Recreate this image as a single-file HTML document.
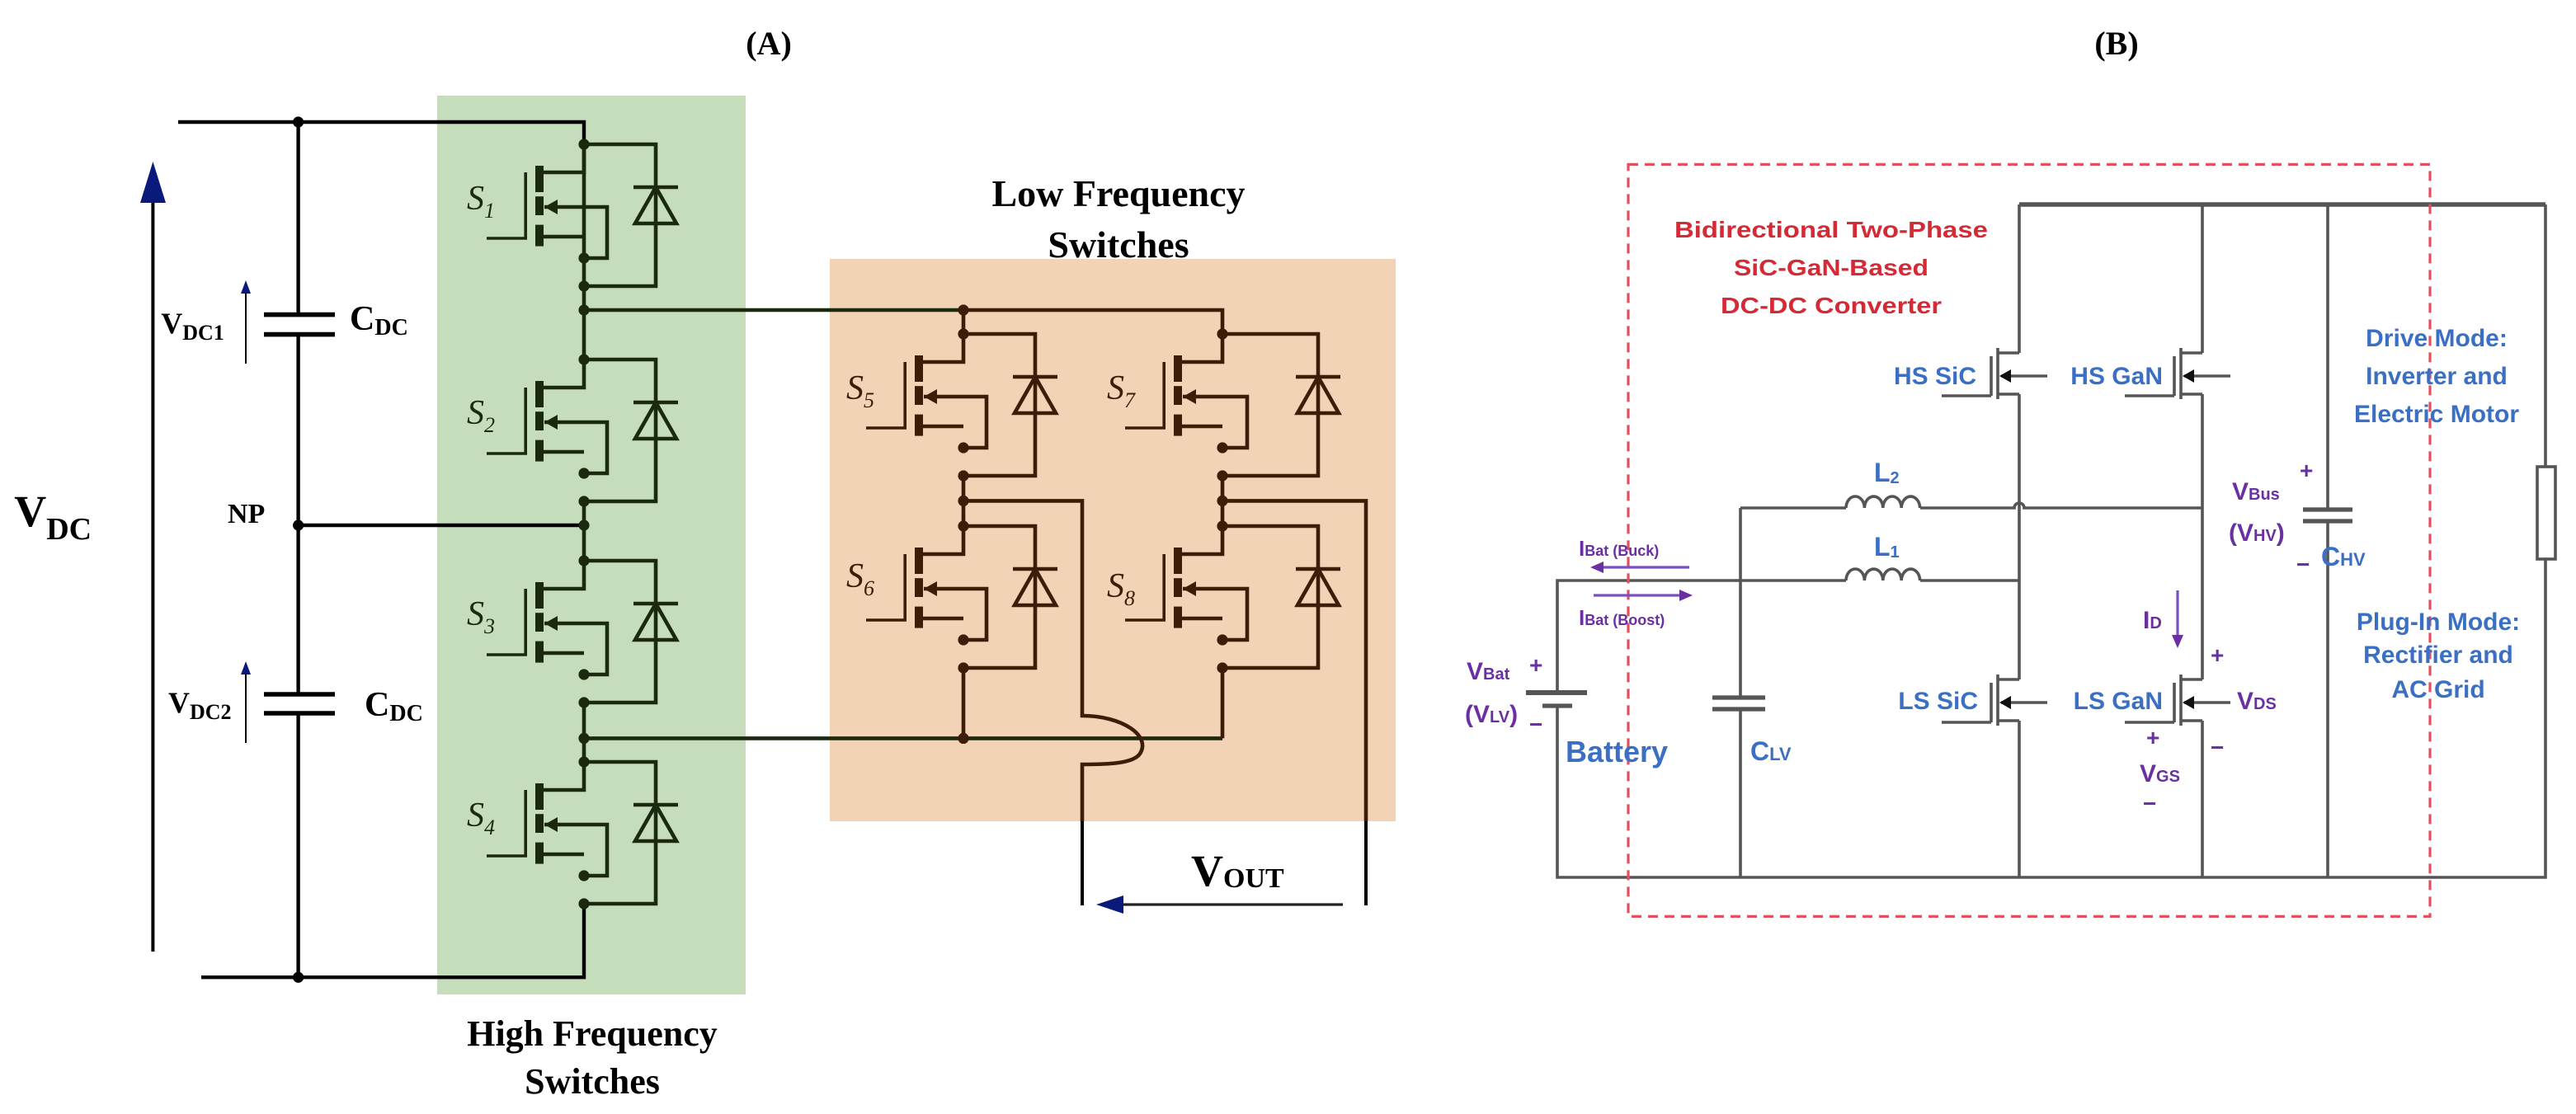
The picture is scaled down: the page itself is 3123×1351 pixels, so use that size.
<!DOCTYPE html>
<html><head><meta charset="utf-8"><style>
html,body{margin:0;padding:0;background:#fff}
svg{display:block}
.sr{font-family:"Liberation Serif",serif;font-weight:bold}
.si{font-family:"Liberation Serif",serif;font-style:italic}
.b{font-family:"Liberation Sans Narrow","Liberation Sans",sans-serif;font-weight:bold}
.n{font-family:"Liberation Sans Narrow","Liberation Sans",sans-serif}
</style></head><body>
<svg width="3123" height="1351" viewBox="0 0 1561.5 675.5" xmlns="http://www.w3.org/2000/svg">
<defs>
<g id="m">
 <path d="M0,0 H43.5 V86 H0 M0,0 V17 H-27 M-24,38 H14 V69 H0 M-27,56 H0" fill="none" stroke-width="2.3"/>
 <path d="M-59,57 H-35.4 V17" fill="none" stroke-width="1.8"/>
 <rect x="-29.5" y="13" width="5" height="16" stroke="none"/>
 <rect x="-29.5" y="31.6" width="5" height="11.4" stroke="none"/>
 <rect x="-29.5" y="48.8" width="5" height="13" stroke="none"/>
 <polygon points="-24,38 -16,33.5 -16,42.5" stroke="none"/>
 <path d="M30,26 H57" stroke-width="2.3"/>
 <polygon points="43.5,26 31,48 56,48" fill="none" stroke-width="2.3"/>
 <circle cx="0" cy="0" r="3.3" stroke="none"/><circle cx="0" cy="69" r="3.3" stroke="none"/><circle cx="0" cy="86" r="3.3" stroke="none"/>
</g>
<g id="m2">
 <path d="M0,0 H58 V86 H0 M0,0 V17 H-27 M-24,38 H15 V69 H0 M-27,56 H0" fill="none" stroke-width="2.3"/>
 <path d="M-59,57 H-35.4 V17" fill="none" stroke-width="1.8"/>
 <rect x="-29.5" y="13" width="5" height="16" stroke="none"/>
 <rect x="-29.5" y="31.6" width="5" height="11.4" stroke="none"/>
 <rect x="-29.5" y="48.8" width="5" height="13" stroke="none"/>
 <polygon points="-24,38 -16,33.5 -16,42.5" stroke="none"/>
 <path d="M44.5,26 H71.5" stroke-width="2.3"/>
 <polygon points="58,26 45.5,48 70.5,48" fill="none" stroke-width="2.3"/>
 <circle cx="0" cy="0" r="3.3" stroke="none"/><circle cx="0" cy="69" r="3.3" stroke="none"/><circle cx="0" cy="86" r="3.3" stroke="none"/>
</g>
<g id="q">
 <path d="M0,0 H-13 M-13,-3 V28 M-17,2 V26 M-47,26 H-17 M-13,25 H0 M-11,14 H17" fill="none" stroke="#555" stroke-width="1.8"/>
 <polygon points="-12,14 -5,10 -5,18" fill="#111"/>
</g>
</defs>

<!-- ===== Part A ===== -->
<text x="466" y="33" class="sr" font-size="20" text-anchor="middle">(A)</text>
<rect x="265" y="58" width="187" height="545" fill="#c5ddbb"/>
<rect x="503" y="157" width="343" height="341" fill="#f2d3b6"/>
<text x="359" y="634" class="sr" font-size="22" text-anchor="middle">High Frequency</text>
<text x="359" y="663" class="sr" font-size="22" text-anchor="middle">Switches</text>
<text x="678" y="125" class="sr" font-size="23" text-anchor="middle">Low Frequency</text>
<text x="678" y="156" class="sr" font-size="23" text-anchor="middle">Switches</text>

<g stroke="#000" stroke-width="2.2" fill="none">
 <path d="M108,74 H354 V87.5"/>
 <path d="M122,592.6 H354 V548"/>
 <path d="M180.8,74 V190.8 M180.8,202.8 V421 M180.8,432.5 V592.6"/>
 <path d="M160,190.8 H203 M160,202.8 H203 M160,421 H203 M160,432.5 H203" stroke-width="2.8"/>
 <path d="M180.8,318.5 H354"/>
</g>
<circle cx="180.8" cy="74" r="3.3"/><circle cx="180.8" cy="318.5" r="3.3"/><circle cx="180.8" cy="592.6" r="3.3"/>
<line x1="92.7" y1="577" x2="92.7" y2="120" stroke="#000" stroke-width="2"/>
<polygon points="92.7,98 85,123 100.5,123" fill="#0a1a7a"/>
<line x1="149" y1="220.5" x2="149" y2="176" stroke="#000" stroke-width="1"/>
<polygon points="149,170 146,178 152,178" fill="#0a1a7a"/>
<line x1="149" y1="450.5" x2="149" y2="407" stroke="#000" stroke-width="1"/>
<polygon points="149,401 146,409 152,409" fill="#0a1a7a"/>
<text x="8.6" y="319" class="sr" font-size="27">V<tspan font-size="19" dy="8">DC</tspan></text>
<text x="138" y="317" class="sr" font-size="17">NP</text>
<text x="97.6" y="202" class="sr" font-size="18">V<tspan font-size="13" dy="4">DC1</tspan></text>
<text x="102" y="432" class="sr" font-size="18">V<tspan font-size="13" dy="4">DC2</tspan></text>
<text x="212" y="200" class="sr" font-size="21">C<tspan font-size="14" dy="3">DC</tspan></text>
<text x="221" y="434" class="sr" font-size="21">C<tspan font-size="14" dy="3">DC</tspan></text>

<g fill="#1b2a0e" stroke="#1b2a0e">
 <path d="M354,86 V218 M354,304 V340 M354,426 V462" stroke-width="2.3" fill="none"/>
 <path d="M354,188 H584 M354,447.7 H741" stroke-width="2.3" fill="none"/>
 <use href="#m" x="354" y="87.5"/>
 <use href="#m" x="354" y="218"/>
 <use href="#m" x="354" y="340"/>
 <use href="#m" x="354" y="462"/>
 <circle cx="354" cy="188" r="3.3" stroke="none"/>
 <circle cx="354" cy="318.5" r="3.3" stroke="none"/>
 <circle cx="354" cy="447.7" r="3.3" stroke="none"/>
</g>
<g class="si" font-size="21" fill="#1b2a0e">
 <text x="283" y="127">S<tspan font-size="13" dy="5">1</tspan></text>
 <text x="283" y="257">S<tspan font-size="13" dy="5">2</tspan></text>
 <text x="283" y="379">S<tspan font-size="13" dy="5">3</tspan></text>
 <text x="283" y="501">S<tspan font-size="13" dy="5">4</tspan></text>
</g>

<g fill="#3b1d08" stroke="#3b1d08">
 <path d="M584,188 H741 V202.5 M584,188 V202.5 M584,288 V319 M741,288 V319 M584,405 V447.7 M741,405 V447.7" stroke-width="2.3" fill="none"/>
 <path d="M584,303.7 H656 V434 C680,434 698,446 691,457 C687,463 672,463.5 656,463.5 V498" stroke-width="2.3" fill="none"/>
 <path d="M741,303.7 H828 V498" stroke-width="2.3" fill="none"/>
 <use href="#m" x="584" y="202.5"/>
 <use href="#m" x="584" y="319"/>
 <use href="#m2" x="741" y="202.5"/>
 <use href="#m2" x="741" y="319"/>
 <circle cx="584" cy="188" r="3.3" stroke="none"/>
 <circle cx="584" cy="303.7" r="3.3" stroke="none"/>
 <circle cx="741" cy="303.7" r="3.3" stroke="none"/>
 <circle cx="584" cy="447.7" r="3.3" stroke="none"/>
</g>
<g class="si" font-size="21" fill="#3b1d08">
 <text x="513" y="242">S<tspan font-size="13" dy="5">5</tspan></text>
 <text x="513" y="356">S<tspan font-size="13" dy="5">6</tspan></text>
 <text x="671" y="242">S<tspan font-size="13" dy="5">7</tspan></text>
 <text x="671" y="362">S<tspan font-size="13" dy="5">8</tspan></text>
</g>
<path d="M656,498 V549 M828,498 V549" stroke="#000" stroke-width="2" fill="none"/>
<line x1="814" y1="548.5" x2="678" y2="548.5" stroke="#222" stroke-width="1.6"/>
<polygon points="664.5,548.5 681,543 681,554" fill="#0a1a7a"/>
<text x="722" y="537" class="sr" font-size="27" font-weight="normal">V<tspan font-size="17" dy="1">OUT</tspan></text>

<!-- ===== Part B ===== -->
<text x="1283" y="33" class="sr" font-size="20" text-anchor="middle">(B)</text>
<g stroke="#555" stroke-width="1.8" fill="none">
 <path d="M1224,124 H1543" stroke-width="2.8"/>
 <path d="M1543,124 V283 M1543,339 V532 H944 V428 M944,420 V352 H1119"/>
 <rect x="1538" y="283" width="11" height="56" fill="#fff"/>
 <path d="M1411,124 V309 M1411,316 V532"/>
 <path d="M1396,309 H1426 M1396,316 H1426" stroke-width="2.6"/>
 <path d="M1224,124 V214 M1224,239 V412 M1224,437 V532"/>
 <path d="M1335,124 V214 M1335,239 V412 M1335,437 V532"/>
 <path d="M1055,308 H1119 M1164,308 H1221 A3,3 0 0 1 1227,308 H1335"/>
 <path d="M1164,352 H1224"/>
 <path d="M1119,308 a5.6,7 0 0 1 11.2,0 a5.6,7 0 0 1 11.2,0 a5.6,7 0 0 1 11.2,0 a5.6,7 0 0 1 11.2,0"/>
 <path d="M1119,352 a5.6,7 0 0 1 11.2,0 a5.6,7 0 0 1 11.2,0 a5.6,7 0 0 1 11.2,0 a5.6,7 0 0 1 11.2,0"/>
 <path d="M1055,308 V423 M1055,430 V532"/>
 <path d="M1038,423 H1070 M1038,430 H1070" stroke-width="2.6"/>
 <path d="M925,420 H962" stroke-width="3"/>
 <path d="M935,428 H953" stroke-width="2.6"/>
</g>
<use href="#q" x="1224" y="214"/>
<use href="#q" x="1335" y="214"/>
<use href="#q" x="1224" y="412"/>
<use href="#q" x="1335" y="412"/>
<rect x="987" y="99.7" width="486" height="456" fill="none" stroke="#e0505e" stroke-width="1.6" stroke-dasharray="6,4"/>
<g class="b" fill="#d42a35" font-size="14" text-anchor="middle">
 <text x="1110" y="144" textLength="190" lengthAdjust="spacingAndGlyphs">Bidirectional Two-Phase</text>
 <text x="1110" y="167" textLength="118" lengthAdjust="spacingAndGlyphs">SiC-GaN-Based</text>
 <text x="1110" y="190" textLength="134" lengthAdjust="spacingAndGlyphs">DC-DC Converter</text>
</g>
<g class="b" fill="#3a6fc4" font-size="15">
 <text x="1198" y="233" text-anchor="end">HS SiC</text>
 <text x="1311" y="233" text-anchor="end">HS GaN</text>
 <text x="1199" y="430" text-anchor="end">LS SiC</text>
 <text x="1311" y="430" text-anchor="end">LS GaN</text>
 <text x="1477" y="210" text-anchor="middle">Drive Mode:</text>
 <text x="1477" y="233" text-anchor="middle">Inverter and</text>
 <text x="1477" y="256" text-anchor="middle">Electric Motor</text>
 <text x="1478" y="382" text-anchor="middle">Plug-In Mode:</text>
 <text x="1478" y="402" text-anchor="middle">Rectifier and</text>
 <text x="1478" y="423" text-anchor="middle">AC Grid</text>
 <text x="1136" y="292" font-size="16">L<tspan font-size="10" dy="1">2</tspan></text>
 <text x="1136" y="337" font-size="16">L<tspan font-size="10" dy="1">1</tspan></text>
 <text x="949" y="462" font-size="18">Battery</text>
 <text x="1061" y="461" font-size="16">C<tspan font-size="11">LV</tspan></text>
 <text x="1407" y="343" font-size="16">C<tspan font-size="11">HV</tspan></text>
</g>
<g class="b" fill="#6a2fa0" font-size="15">
 <text x="889" y="412">V<tspan font-size="10">Bat</tspan></text>
 <text x="888" y="438">(V<tspan font-size="10">LV</tspan>)</text>
 <text x="927" y="408" font-size="14">+</text>
 <text x="927" y="444" font-size="14">−</text>
 <text x="1353" y="303">V<tspan font-size="10">Bus</tspan></text>
 <text x="1394" y="290" font-size="14">+</text>
 <text x="1351" y="328">(V<tspan font-size="10">HV</tspan>)</text>
 <text x="1392" y="347" font-size="14">−</text>
 <text x="957" y="337" font-size="13">I<tspan font-size="9">Bat (Buck)</tspan></text>
 <text x="957" y="379" font-size="13">I<tspan font-size="9">Bat (Boost)</tspan></text>
 <text x="1299" y="381">I<tspan font-size="10">D</tspan></text>
 <text x="1340" y="402" font-size="14">+</text>
 <text x="1340" y="458" font-size="14">−</text>
 <text x="1356" y="430">V<tspan font-size="10">DS</tspan></text>
 <text x="1301" y="452" font-size="14">+</text>
 <text x="1297" y="474">V<tspan font-size="10">GS</tspan></text>
 <text x="1299" y="492" font-size="14">−</text>
</g>
<g stroke="#7a4fc0" stroke-width="1.6">
 <line x1="1024" y1="344" x2="970" y2="344"/>
 <line x1="966" y1="361" x2="1020" y2="361"/>
 <line x1="1320" y1="358" x2="1320" y2="388"/>
</g>
<polygon points="964,344 972,340.5 972,347.5" fill="#6a2fa0"/>
<polygon points="1026,361 1018,357.5 1018,364.5" fill="#6a2fa0"/>
<polygon points="1320,393 1316.5,385 1323.5,385" fill="#6a2fa0"/>
</svg>
</body></html>
